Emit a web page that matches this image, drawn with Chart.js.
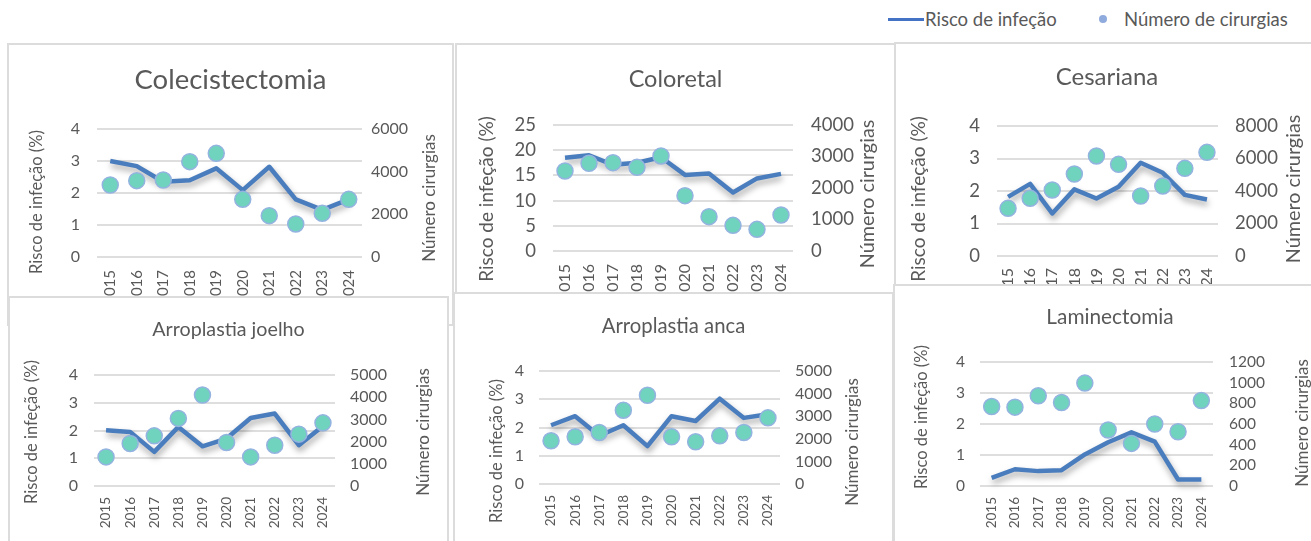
<!DOCTYPE html>
<html lang="pt">
<head>
<meta charset="utf-8">
<title>Risco de infeção e número de cirurgias, 2015–2024</title>
<script src="https://cdn.jsdelivr.net/npm/chart.js@4.4.1/dist/chart.umd.min.js"></script>
<style>
  html, body { margin: 0; padding: 0; background: #fff; }
  body { position: relative; width: 1311px; height: 541px; overflow: hidden; font-family: Lato, "Open Sans", sans-serif; }
  .painel { position: absolute; box-sizing: border-box; border: 2px solid #dcdcdc; background: #fff; overflow: hidden; }
  .painel canvas { position: absolute; left: 0; top: 0; }
  #legenda { position: absolute; left: 0; top: 0; width: 1311px; height: 40px; color: #595959; font-size: 18.5px; }
  #legenda .linha { position: absolute; left: 888px; top: 18px; width: 36px; height: 3px; background: #4472c4; }
  #legenda .ponto { position: absolute; left: 1099px; top: 15px; width: 8px; height: 8px; border-radius: 50%; background: #8faadc; }
  #legenda .txt { position: absolute; top: 8px; line-height: 22px; white-space: nowrap; }
</style>
</head>
<body>
<div id="legenda">
  <span class="linha"></span><span class="txt" style="left:925px">Risco de infeção</span>
  <span class="ponto"></span><span class="txt" style="left:1124px">Número de cirurgias</span>
</div>
<div class="painel" id="p1"><canvas id="c1"></canvas></div>
<div class="painel" id="p2"><canvas id="c2"></canvas></div>
<div class="painel" id="p3"><canvas id="c3"></canvas></div>
<div class="painel" id="p4"><canvas id="c4"></canvas></div>
<div class="painel" id="p5"><canvas id="c5"></canvas></div>
<div class="painel" id="p6"><canvas id="c6"></canvas></div>
<script>
// ---- Dados ----
const anos = ['2015', '2016', '2017', '2018', '2019', '2020', '2021', '2022', '2023', '2024'];

const riscoColecistectomia = [3.0, 2.84, 2.35, 2.4, 2.77, 2.09, 2.82, 1.8, 1.47, 1.8];
const cirurgiasColecistectomia = [3375, 3578, 3609, 4469, 4859, 2703, 1938, 1547, 2047, 2703];

const riscoColoretal = [18.5, 19.0, 17.1, 17.5, 18.6, 15.1, 15.4, 11.6, 14.4, 15.3];
const cirurgiasColoretal = [2540, 2784, 2804, 2656, 3016, 1757, 1090, 815, 688, 1143];

const riscoCesariana = [1.82, 2.22, 1.31, 2.05, 1.77, 2.13, 2.87, 2.56, 1.88, 1.74];
const cirurgiasCesariana = [2933, 3549, 4062, 5046, 6154, 5641, 3692, 4308, 5395, 6379];

const riscoJoelho = [2.01, 1.95, 1.23, 2.13, 1.43, 1.71, 2.45, 2.61, 1.47, 2.16];
const cirurgiasJoelho = [1310, 1915, 2258, 3044, 4097, 1960, 1310, 1838, 2335, 2846];

const riscoAnca = [2.08, 2.4, 1.71, 2.08, 1.34, 2.4, 2.23, 3.02, 2.34, 2.47];
const cirurgiasAnca = [1912, 2088, 2280, 3265, 3927, 2088, 1868, 2133, 2280, 2927];

const riscoLaminectomia = [0.26, 0.54, 0.48, 0.51, 1.02, 1.41, 1.73, 1.43, 0.21, 0.21];
const cirurgiasLaminectomia = [769, 763, 873, 808, 996, 542, 412, 600, 525, 827];

// ---- Marcas dos eixos ----
const ticksRisco4 = [0, 1, 2, 3, 4];
const ticksRisco25 = [0, 5, 10, 15, 20, 25];
const ticksCirurgias6000 = [0, 2000, 4000, 6000];
const ticksCirurgias4000 = [0, 1000, 2000, 3000, 4000];
const ticksCirurgias8000 = [0, 2000, 4000, 6000, 8000];
const ticksCirurgias5000 = [0, 1000, 2000, 3000, 4000, 5000];
const ticksCirurgias1200 = [0, 200, 400, 600, 800, 1000, 1200];

const tituloRisco = 'Risco de infeção (%)';
const tituloCirurgias = 'Número cirurgias';

// ---- Estilo ----
const CINZA = '#595959';
const GRELHA = '#dedede';
const AZUL_LINHA = '#4a7dbd';
const PONTO_FUNDO = '#70d3bd';
const PONTO_BORDA = '#93b3e0';
Chart.defaults.font.family = 'Lato, "Open Sans", sans-serif';
Chart.defaults.color = CINZA;

// Títulos dos eixos verticais, ambos lidos de baixo para cima
const titulosEixos = {
  id: 'titulosEixos',
  afterDraw(chart, args, opts) {
    const ctx = chart.ctx;
    ctx.save();
    ctx.fillStyle = CINZA;
    ctx.textAlign = 'center';
    ctx.textBaseline = 'middle';
    for (const t of opts.itens || []) {
      ctx.font = t.size + 'px ' + Chart.defaults.font.family;
      ctx.save();
      ctx.translate(t.x, t.y);
      ctx.rotate(-Math.PI / 2);
      ctx.fillText(t.text, 0, 0);
      ctx.restore();
    }
    ctx.restore();
  }
};

// Sombra suave por baixo da linha de risco
const sombraLinha = {
  id: 'sombraLinha',
  beforeDatasetDraw(chart, args) {
    if (args.index !== 1) return;
    const ctx = chart.ctx;
    ctx.save();
    ctx.shadowColor = 'rgba(0,0,0,0.35)';
    ctx.shadowBlur = 6;
    ctx.shadowOffsetX = 1;
    ctx.shadowOffsetY = 4;
  },
  afterDatasetDraw(chart, args) {
    if (args.index !== 1) return;
    chart.ctx.restore();
  }
};

const semSeparador = v => String(v);

// caixa: [esquerda, topo, largura, altura] do painel; area: [esq, topo, dir, baixo] da zona de desenho
const paineis = [
  { id: 1, caixa: [7, 43, 447, 283], titulo: 'Colecistectomia', tamTitulo: 27.5, yTitulo: 80,
    risco: riscoColecistectomia, cirurgias: cirurgiasColecistectomia, ticksY: ticksRisco4, ticksY1: ticksCirurgias6000,
    area: [97, 129, 362, 257], fonteY: 16, fonteX: 15, padY: 17, padY1: 9, padX: 13,
    eixoEsq: [37, 202, 16.5], eixoDir: [430, 198, 17] },
  { id: 2, caixa: [455, 43, 441, 283], titulo: 'Coloretal', tamTitulo: 23.5, yTitulo: 79,
    risco: riscoColoretal, cirurgias: cirurgiasColoretal, ticksY: ticksRisco25, ticksY1: ticksCirurgias4000,
    area: [553, 125, 793, 251], fonteY: 18.5, fonteX: 16, padY: 17, padY1: 18, padX: 13,
    eixoEsq: [487, 199, 19], eixoDir: [868, 194, 19.8] },
  { id: 3, caixa: [894, 42, 426, 280], titulo: 'Cesariana', tamTitulo: 24, yTitulo: 77,
    risco: riscoCesariana, cirurgias: cirurgiasCesariana, ticksY: ticksRisco4, ticksY1: ticksCirurgias8000,
    area: [997, 126, 1218, 256], fonteY: 18.5, fonteX: 16, padY: 17, padY1: 17, padX: 12,
    eixoEsq: [919, 199, 19], eixoDir: [1294, 189, 19.8] },
  { id: 4, caixa: [8, 296, 441, 249], titulo: 'Arroplastia joelho', tamTitulo: 19.7, yTitulo: 330,
    risco: riscoJoelho, cirurgias: cirurgiasJoelho, ticksY: ticksRisco4, ticksY1: ticksCirurgias5000,
    area: [94, 375, 335, 486], fonteY: 16, fonteX: 13.5, padY: 16, padY1: 15, padX: 11,
    eixoEsq: [32, 432, 16.5], eixoDir: [424, 432, 17] },
  { id: 5, caixa: [453, 292, 441, 253], titulo: 'Arroplastia anca', tamTitulo: 20.3, yTitulo: 326,
    risco: riscoAnca, cirurgias: cirurgiasAnca, ticksY: ticksRisco4, ticksY1: ticksCirurgias5000,
    area: [539, 371, 780, 484], fonteY: 16, fonteX: 13.5, padY: 15, padY1: 15, padX: 11,
    eixoEsq: [497, 451, 16.5], eixoDir: [853, 442, 17] },
  { id: 6, caixa: [893, 284, 434, 261], titulo: 'Laminectomia', tamTitulo: 20.8, yTitulo: 317,
    risco: riscoLaminectomia, cirurgias: cirurgiasLaminectomia, ticksY: ticksRisco4, ticksY1: ticksCirurgias1200,
    area: [980, 362, 1213, 486], fonteY: 15.5, fonteX: 13.5, padY: 15, padY1: 16, padX: 11,
    eixoEsq: [922, 417, 16.5], eixoDir: [1303, 423, 17] }
];

for (const p of paineis) {
  const [bx, by, bw, bh] = p.caixa;
  const div = document.getElementById('p' + p.id);
  Object.assign(div.style, { left: bx + 'px', top: by + 'px', width: bw + 'px', height: bh + 'px' });
  const ox = bx + 2, oy = by + 2;          // origem interior (dentro da borda)
  const W = bw - 4, H = bh - 4;
  const canvas = document.getElementById('c' + p.id);
  canvas.width = W; canvas.height = H;
  canvas.style.width = W + 'px'; canvas.style.height = H + 'px';

  const L = p.area[0] - ox, T = p.area[1] - oy, R = p.area[2] - ox, B = p.area[3] - oy;
  const altTitulo = p.tamTitulo * 1.2;
  const padTopo = (p.yTitulo - oy) - altTitulo / 2;
  const padBase = T - padTopo - altTitulo;

  new Chart(canvas, {
    type: 'line',
    data: {
      labels: anos,
      datasets: [
        {
          label: 'Número de cirurgias', data: p.cirurgias, yAxisID: 'y1', order: 0,
          showLine: false, clip: false,
          pointRadius: 8, pointHoverRadius: 8, pointBorderWidth: 1.5,
          pointBackgroundColor: PONTO_FUNDO, pointBorderColor: PONTO_BORDA
        },
        {
          label: 'Risco de infeção', data: p.risco, yAxisID: 'y', order: 1, clip: false,
          borderColor: AZUL_LINHA, borderWidth: 4.5, tension: 0, pointRadius: 0,
          borderJoinStyle: 'round', borderCapStyle: 'butt', fill: false
        }
      ]
    },
    options: {
      responsive: false, animation: false, devicePixelRatio: 1,
      layout: { padding: 0 },
      events: [],
      plugins: {
        legend: { display: false },
        tooltip: { enabled: false },
        title: {
          display: true, text: p.titulo, color: CINZA,
          font: { size: p.tamTitulo, weight: 'normal', lineHeight: 1.2 },
          padding: { top: padTopo, bottom: padBase }
        },
        titulosEixos: {
          itens: [
            { text: tituloRisco, x: p.eixoEsq[0] - ox, y: p.eixoEsq[1] - oy, size: p.eixoEsq[2] },
            { text: tituloCirurgias, x: p.eixoDir[0] - ox, y: p.eixoDir[1] - oy, size: p.eixoDir[2] }
          ]
        }
      },
      scales: {
        x: {
          type: 'category', offset: true,
          grid: { display: false, drawTicks: false }, border: { display: false },
          ticks: { color: CINZA, font: { size: p.fonteX }, minRotation: 90, maxRotation: 90, autoSkip: false, padding: p.padX },
          afterFit(s) { s.height = H - B; }
        },
        y: {
          position: 'left', min: p.ticksY[0], max: p.ticksY[p.ticksY.length - 1],
          afterBuildTicks(s) { s.ticks = p.ticksY.map(v => ({ value: v })); },
          grid: { color: GRELHA, lineWidth: 2, drawTicks: false }, border: { display: false },
          ticks: { color: CINZA, font: { size: p.fonteY }, padding: p.padY, autoSkip: false, callback: semSeparador },
          afterFit(s) { s.width = L; }
        },
        y1: {
          position: 'right', min: p.ticksY1[0], max: p.ticksY1[p.ticksY1.length - 1],
          afterBuildTicks(s) { s.ticks = p.ticksY1.map(v => ({ value: v })); },
          grid: { display: false, drawTicks: false }, border: { display: false },
          ticks: { color: CINZA, font: { size: p.fonteY }, padding: p.padY1, autoSkip: false, callback: semSeparador },
          afterFit(s) { s.width = W - R; }
        }
      }
    },
    plugins: [titulosEixos, sombraLinha]
  });
}
</script>
</body>
</html>
